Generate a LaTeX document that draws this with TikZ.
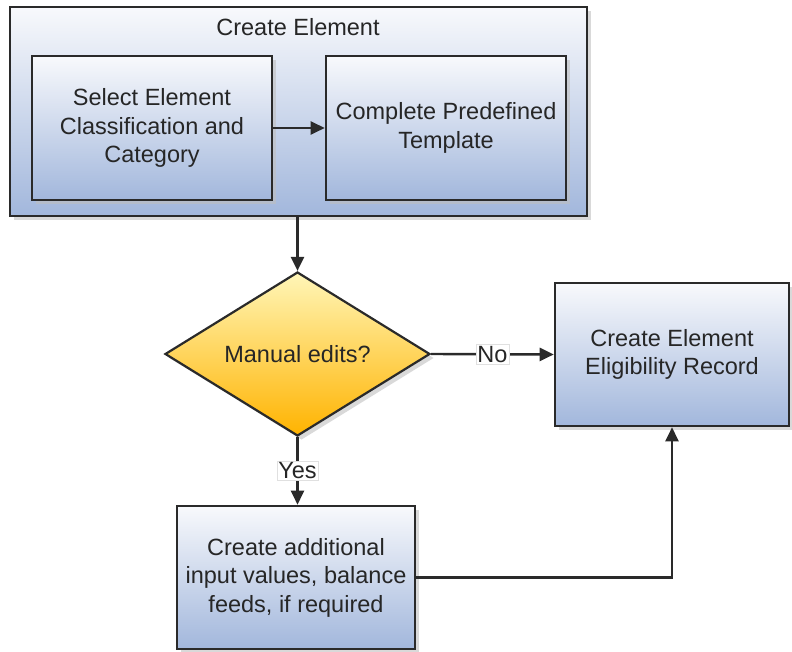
\documentclass[tikz,border=0pt]{standalone}
\usepackage{fontspec}
\setmainfont{Liberation Sans}
\usetikzlibrary{shapes.geometric,arrows.meta,shadows}
\definecolor{txt}{HTML}{262626}
\definecolor{edge}{HTML}{2A2A2A}
\definecolor{btop}{HTML}{F8F9FC}
\definecolor{bbot}{HTML}{A2B7DC}
\definecolor{ytop}{HTML}{FFF6B8}
\definecolor{ybot}{HTML}{FFB300}
\tikzset{
  every node/.style={font=\fontsize{23.5}{28.5}\selectfont, text=txt},
  boxstyle/.style={draw=edge, line width=2.6pt, top color=btop, bottom color=bbot,
    align=center, inner sep=4pt,
    drop shadow={shadow xshift=4pt, shadow yshift=-4pt, fill=black!25, opacity=0.6}},
  decision/.style={diamond, draw=edge, line width=2.2pt, top color=ytop, bottom color=ybot,
    inner sep=0pt, align=center,
    drop shadow={shadow xshift=4pt, shadow yshift=-4pt, fill=black!25, opacity=0.6}},
  conn/.style={draw=edge, line width=2.4pt, -{Triangle[length=14pt,width=13pt]}},
  lbl/.style={fill=white, draw=black!12, line width=0.6pt, inner sep=1.5pt}
}
\begin{document}
\begin{tikzpicture}[x=1pt, y=-1pt]
\useasboundingbox (0,0) rectangle (792,652);
\node[boxstyle, minimum width=577pt, minimum height=209pt] (cont) at (298.5,111.5) {};
\node (title) at (298,27) {Create Element};
\node[boxstyle, minimum width=240pt, minimum height=144pt] (sel) at (152,128)
  {Select Element\\Classification and\\Category};
\node[boxstyle, minimum width=240pt, minimum height=144pt] (comp) at (446,128)
  {Complete Predefined\\Template};
\node[decision, minimum width=265pt, minimum height=164pt] (dia) at (297.5,354) {Manual edits?};
\node[boxstyle, minimum width=234pt, minimum height=143pt] (elig) at (672,354.5)
  {Create Element\\Eligibility Record};
\node[boxstyle, minimum width=238pt, minimum height=143pt] (add) at (296,577.5)
  {Create additional\\input values, balance\\feeds, if required};
\draw[conn] (sel.east) -- (comp.west);
\draw[conn] (cont.south -| dia.north) -- (dia.north);
\draw[conn] (dia.east) -- node[lbl] {No} (elig.west);
\draw[conn] (dia.south) -- node[lbl] {Yes} (dia.south |- add.north);
\draw[conn] (add.east) -| (elig.south);
\end{tikzpicture}
\end{document}
